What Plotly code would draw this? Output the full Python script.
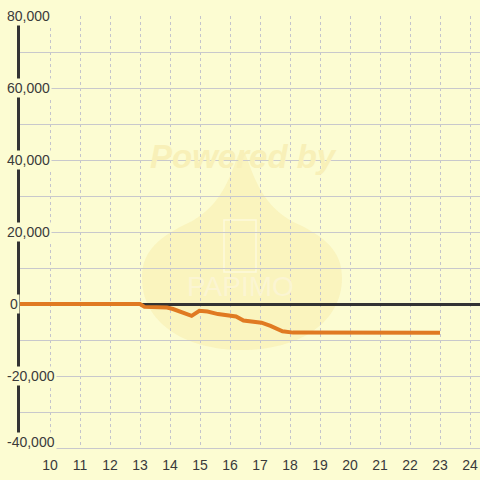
import plotly.graph_objects as go

# ---- data ----
hours = [9, 13, 13.15, 13.6, 13.9, 14.1, 14.4, 14.72, 14.98, 15.25, 15.6, 15.95,
         16.2, 16.45, 16.75, 17.05, 17.35, 17.75, 18.1, 23]
values = [0, 0, -800, -850, -1000, -1400, -2300, -3300, -1900, -2100, -2800, -3300,
          -3450, -4600, -5000, -5200, -6100, -7600, -7950, -8000]
y_tick_vals = [80000, 60000, 40000, 20000, 0, -20000, -40000]
y_tick_text = ["80,000", "60,000", "40,000", "20,000", "0", "-20,000", "-40,000"]
x_tick_vals = list(range(10, 25))

BG = "#fcfcd2"
W, H = 480, 480
L, R, T, B = 20, 0, 16, 32
PW, PH = W - L - R, H - T - B


def px(x):
    return (x - L) / PW


def py(y):
    return (H - B - y) / PH


fig = go.Figure()
fig.add_trace(go.Scatter(
    x=hours, y=values, mode="lines",
    line=dict(color="#e07a22", width=4),
    hoverinfo="skip", showlegend=False,
))

# watermark drop
pts = [("M", [(242, 151)]),
       ("C", [(250, 152), (252, 205), (300, 225)]),
       ("C", [(330, 240), (342, 255), (342, 278)]),
       ("C", [(342, 322), (300, 350), (242, 350)]),
       ("C", [(184, 350), (142, 322), (142, 278)]),
       ("C", [(142, 255), (154, 240), (184, 225)]),
       ("C", [(232, 205), (234, 152), (242, 151)])]
path = ""
for cmd, ps in pts:
    path += cmd + " " + " ".join(f"{px(a):.4f},{py(b):.4f}" for a, b in ps) + " "
path += "Z"
shapes = [dict(type="path", path=path, xref="paper", yref="paper",
               fillcolor="#f8eeb0", line=dict(width=0), layer="below", opacity=0.6),
          dict(type="rect", xref="paper", yref="paper",
               x0=px(224), x1=px(256), y0=py(272), y1=py(220),
               line=dict(color="#fdf9dc", width=1.5), layer="below")]

annotations = [dict(text="Powered by", xref="paper", yref="paper",
                    x=px(243), y=py(136), showarrow=False,
                    font=dict(family="Liberation Sans", size=33, color="#f8f0b8",
                              weight="bold", style="italic")),
               dict(text="PAPIMO", xref="paper", yref="paper",
                    x=px(240), y=py(304), showarrow=False,
                    font=dict(family="Liberation Sans", size=28, color="#fbf5d2"))]

for v, t in zip(y_tick_vals, y_tick_text):
    annotations.append(dict(
        text=t, xref="paper", yref="y", x=0, y=v, xanchor="left", yanchor="middle",
        xshift=-15 if t != "0" else -12, yshift=6 if v == -40000 else 0,
        showarrow=False, bgcolor=BG, borderpad=1,
        font=dict(family="Liberation Sans", size=14, color="#3a3a3a")))

fig.update_layout(
    width=W, height=H,
    margin=dict(l=L, r=R, t=T, b=B, pad=0, autoexpand=False),
    paper_bgcolor=BG, plot_bgcolor=BG,
    shapes=shapes, annotations=annotations,
    xaxis=dict(range=[9, 9 + PW / 30], tickmode="array", tickvals=x_tick_vals,
               showgrid=True, gridcolor="#c4c4cc", griddash="3px,3px", gridwidth=1,
               zeroline=False, showline=True, linecolor="#c8c8cc", linewidth=1,
               ticks="", ticklabelstandoff=4, automargin=False,
               tickfont=dict(family="Liberation Sans", size=14, color="#3a3a3a")),
    yaxis=dict(range=[-40000, 80000], tickmode="array", tickvals=list(range(-40000, 80001, 10000)),
               showticklabels=False, showgrid=True, gridcolor="#c8c8cc", gridwidth=1,
               zeroline=True, zerolinecolor="#333333", zerolinewidth=3, automargin=False,
               showline=True, linecolor="#333333", linewidth=3, ticks=""),
)

fig.write_html("out.html", config={"displayModeBar": False, "staticPlot": True},
               post_script="document.body.style.margin='0px';document.body.style.background='%s';" % BG)
